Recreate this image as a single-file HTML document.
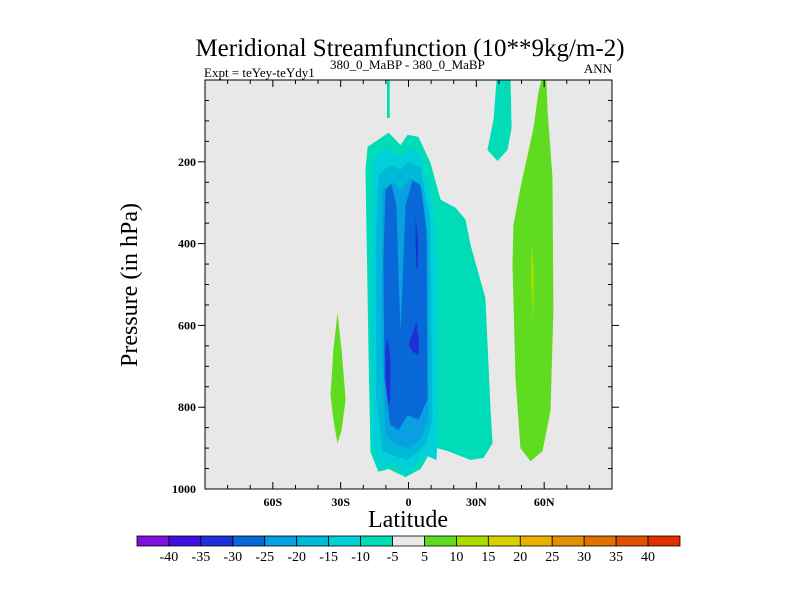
<!DOCTYPE html>
<html><head><meta charset="utf-8">
<style>
html,body{margin:0;padding:0;background:#fff;}
svg{display:block;font-family:"Liberation Serif",serif;}
</style></head>
<body>
<svg id="chart" width="800" height="600" viewBox="0 0 800 600" xmlns="http://www.w3.org/2000/svg">
<text x="410" y="56" font-size="25" text-anchor="middle">Meridional Streamfunction (10**9kg/m-2)</text>
<text x="204" y="77" font-size="13">Expt = teYey-teYdy1</text>
<text x="330" y="69" font-size="13">380_0_MaBP - 380_0_MaBP</text>
<text x="612" y="73" font-size="13" text-anchor="end">ANN</text>
<rect x="205" y="80" width="407" height="409" fill="#e8e8e8"/>
<g id="contours"></g>
<g id="axes"></g>
<rect x="205" y="80" width="407" height="409" fill="none" stroke="#000" stroke-width="1"/>
<text x="408" y="527" font-size="24" text-anchor="middle">Latitude</text>
<text x="0" y="0" font-size="24" text-anchor="middle" transform="translate(137,285) rotate(-90)">Pressure (in hPa)</text>
<g id="colorbar"></g>
</svg>
<script>
const NS="http://www.w3.org/2000/svg";
const xTickLats=[-60,-30,0,30,60];
const xTickLabels=["60S","30S","0","30N","60N"];
const yTickVals=[200,400,600,800,1000];
const yTickLabels=["200","400","600","800","1000"];
const cbColors=["#8010e0","#4010e0","#2030d8","#0868d8","#08a0e0","#00b8d8","#00d0d8","#00dcb8","#e8e8e8","#60dc20","#a8dc00","#d8d000","#e8b000","#e09000","#e07000","#e05000","#e03000"];
const cbLabels=["-40","-35","-30","-25","-20","-15","-10","-5","5","10","15","20","25","30","35","40"];
const contourLevels=[-5,-10,-15,-20,-25,-30,-30,-30,-5,-5,5,5,10];
const contourColors=["#00dcb8","#00d0d8","#00b8d8","#08a0e0","#0868d8","#2030d8","#2030d8","#2030d8","#00dcb8","#00dcb8","#60dc20","#60dc20","#a8dc00"];
const contourShapes=[
 [[-18.1,163],[-8.8,129],[-3.5,159],[-0.4,134],[4.4,139],[9.7,202],[14.2,293],[20.8,312],[25.2,341],[27.4,403],[34,533],[36.3,809],[37.2,888],[33.2,924],[27.4,929],[17.3,907],[11,898],[5.3,951],[-1.3,971],[-8.8,951],[-13.3,958],[-16.8,910],[-17.7,666],[-19,220]],
 [[-15.5,196],[-10.2,166],[-3.5,191],[-0.4,166],[4.4,176],[8.8,245],[12.4,391],[13.3,782],[12.4,929],[7.5,917],[4.4,934],[-0.4,966],[-7.1,941],[-13.3,949],[-15.9,880],[-16.8,538]],
 [[-13.3,232],[-8,208],[-3.5,220],[0,200],[5.3,215],[9.7,342],[10.6,831],[7.5,892],[-0.4,929],[-7.1,917],[-11.5,905],[-14.2,782],[-14.6,416]],
 [[-11.5,269],[-7.1,249],[-3.5,269],[0.9,240],[6.2,269],[8.8,416],[8.8,831],[5.3,880],[0,900],[-5.7,892],[-10.2,868],[-11.9,611]],
 [[-10.2,269],[-7.5,254],[-5.3,306],[-4.4,489],[-3.5,611],[-2.2,440],[-1.3,306],[1.8,245],[5.3,257],[8,367],[8.4,782],[4.4,831],[-0.4,819],[-4.4,856],[-8,843],[-10.6,733],[-11.1,440]],
 [[-9.3,630],[-8,684],[-8,782],[-8.8,794],[-10.2,733],[-10.2,660]],
 [[3.1,337],[4.2,391],[4.2,460],[3.5,462],[3.1,391]],
 [[3.5,591],[4.6,635],[4.6,672],[1.8,665],[0,647]],
 [[-9.5,0],[-8.3,0],[-8.3,93],[-9.5,93]],
 [[38.9,0],[45.1,0],[45.6,117],[43.8,171],[39.4,198],[34.9,171],[37.6,98]],
 [[58.8,0],[61,0],[61.5,76],[63.7,240],[64.1,565],[62.8,809],[59.3,907],[54,932],[49.5,900],[47.3,729],[46,452],[46.4,355],[49.5,264],[55.3,117],[57.5,29]],
 [[-31.4,570],[-29.6,660],[-27.8,782],[-29.6,856],[-31.4,888],[-33.2,831],[-34.5,770],[-33.2,660]],
 [[54.6,400],[55.5,470],[55.1,590],[54.1,480]]
];
const X0=205,X1=612,Y0=80,Y1=489;
function xScale(lat){return X0+(lat+90)/180*(X1-X0);}
function yScale(p){return Y0+p/1000*(Y1-Y0);}
function mk(tag,attrs,parent){const e=document.createElementNS(NS,tag);for(const k in attrs)e.setAttribute(k,attrs[k]);parent.appendChild(e);return e;}
const cg=document.getElementById('contours');
contourShapes.forEach((pts,i)=>{
  const d=pts.map((q,j)=>(j?'L':'M')+xScale(q[0]).toFixed(1)+','+yScale(q[1]).toFixed(1)).join(' ')+'Z';
  const p=mk('path',{d:d,fill:contourColors[i]},cg);
  
  
});
const ag=document.getElementById('axes');
for(let lat=-80;lat<=80;lat+=10){
  const x=xScale(lat);const major=lat%30===0;const L=major?7:4;
  const t1=mk('line',{x1:x,x2:x,y1:Y1,y2:Y1-L,stroke:'#000'},ag);
  
  
  const t2=mk('line',{x1:x,x2:x,y1:Y0,y2:Y0+L,stroke:'#000'},ag);
  
  
}
xTickLats.forEach((lat,i)=>{
  const t=mk('text',{x:xScale(lat),y:506,'font-size':12,'font-weight':'bold','text-anchor':'middle'},ag);
  t.textContent=xTickLabels[i];
  
  
});
for(let p=50;p<1000;p+=50){
  const y=yScale(p);
  if(p%200===0){
    const t=mk('line',{x1:X0-7,x2:X0,y1:y,y2:y,stroke:'#000'},ag);
    
    
    const r=mk('line',{x1:X1,x2:X1+7,y1:y,y2:y,stroke:'#000'},ag);
    
    
  } else {
    const t=mk('line',{x1:X0,x2:X0+4,y1:y,y2:y,stroke:'#000'},ag);
    
    
    const r=mk('line',{x1:X1-4,x2:X1,y1:y,y2:y,stroke:'#000'},ag);
    
    
  }
}
yTickVals.forEach((v,i)=>{
  const t=mk('text',{x:196,y:yScale(v)+4,'font-size':12,'font-weight':'bold','text-anchor':'end'},ag);
  t.textContent=yTickLabels[i];
  
  
});
const cb=document.getElementById('colorbar');
const CB0=137,CB1=680,CBY=536,CBH=10,bw=(CB1-CB0)/cbColors.length;
cbColors.forEach((c,i)=>{
  const r=mk('rect',{x:CB0+i*bw,y:CBY,width:bw,height:CBH,fill:c,stroke:'#000','stroke-width':0.8},cb);
  
  
});
cbLabels.forEach((s,i)=>{
  const t=mk('text',{x:CB0+(i+1)*bw,y:561,'font-size':14,'text-anchor':'middle'},cb);
  t.textContent=s;
  
  
});
</script>
</body></html>
